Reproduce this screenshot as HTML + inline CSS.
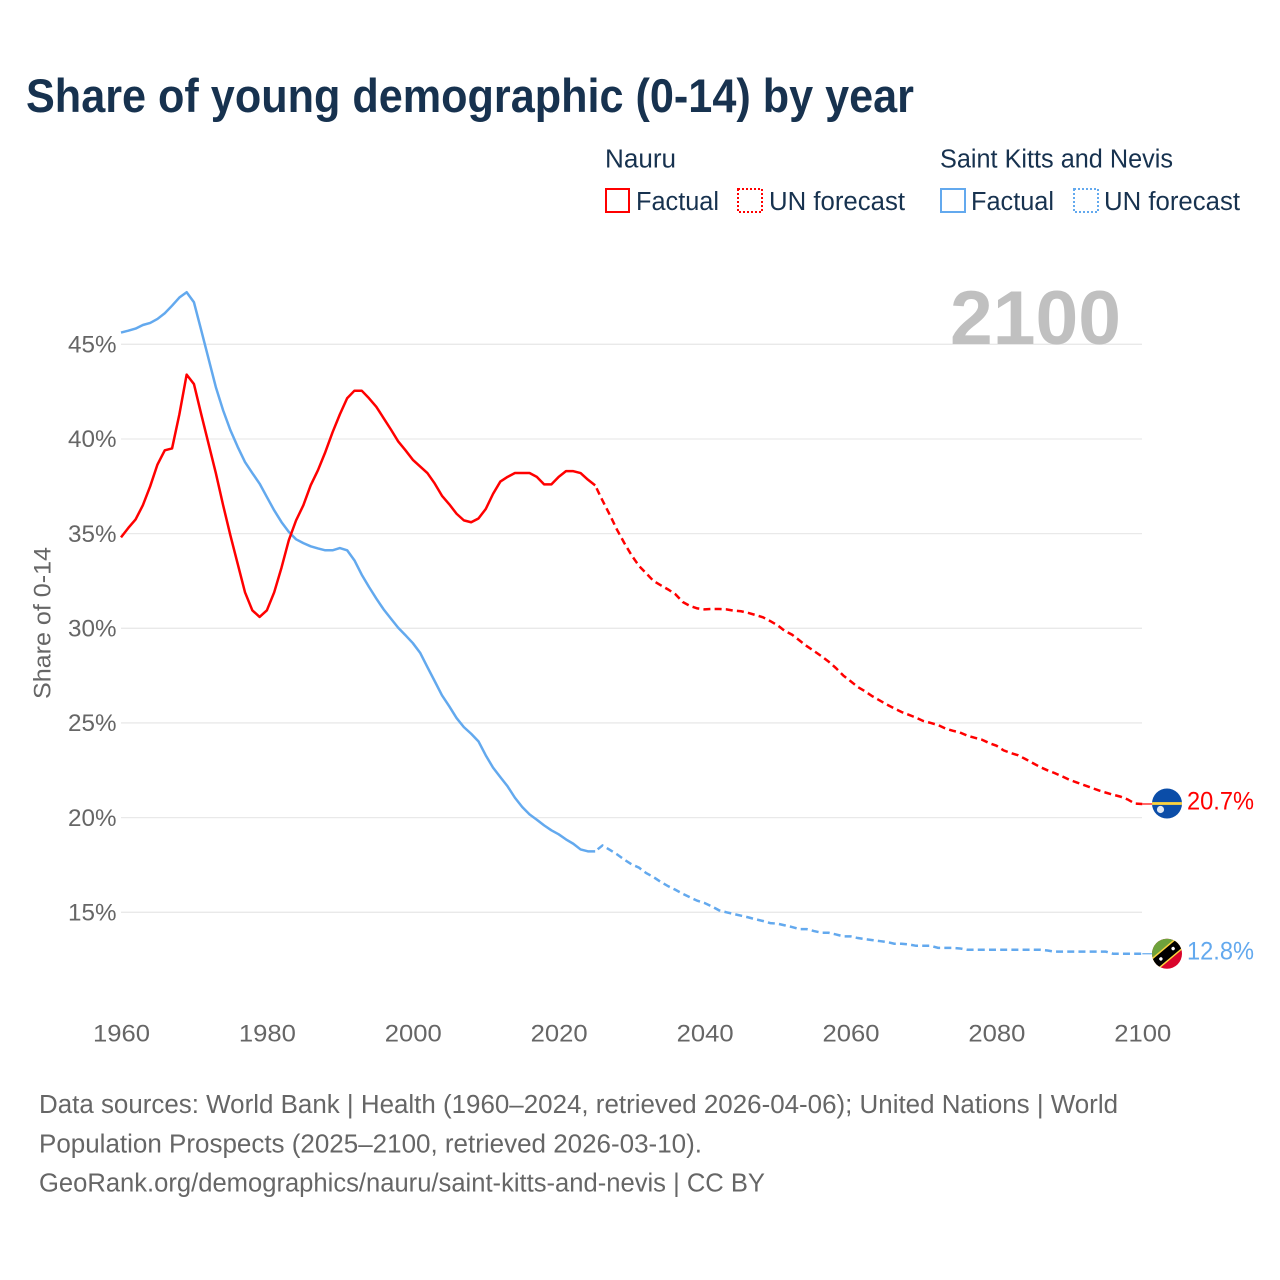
<!DOCTYPE html>
<html lang="en">
<head>
<meta charset="utf-8">
<title>Share of young demographic (0-14) by year</title>
<style>
  html, body { margin: 0; padding: 0; background: #fff; }
  svg { display: block; font-family: "Liberation Sans", sans-serif; }
</style>
</head>
<body>
<svg id="chart" width="1280" height="1280" viewBox="0 0 1280 1280" xmlns="http://www.w3.org/2000/svg">
  <defs>
    <clipPath id="clip-nauru"><circle id="clip-nauru-c" r="15"></circle></clipPath>
    <clipPath id="clip-kitts"><circle id="clip-kitts-c" r="15"></circle></clipPath>
  </defs>
  <rect width="1280" height="1280" fill="#ffffff"></rect>

  <text x="26" y="112" font-size="47" font-weight="700" fill="#17324f" textLength="888" lengthAdjust="spacingAndGlyphs">Share of young demographic (0-14) by year</text>

  <g font-size="25.5" fill="#17324f">
    <text x="605" y="167.5" textLength="71" lengthAdjust="spacingAndGlyphs">Nauru</text>
    <text x="940" y="167.5" textLength="233" lengthAdjust="spacingAndGlyphs">Saint Kitts and Nevis</text>

    <g>
      <rect x="606" y="189" width="23" height="23" fill="none" stroke="#ff0000" stroke-width="2"></rect>
      <text x="636" y="210" textLength="83" lengthAdjust="spacingAndGlyphs">Factual</text>
    </g>
    <g>
      <rect x="738" y="189" width="24" height="23" fill="none" stroke="#ff0000" stroke-width="2" stroke-dasharray="2 2"></rect>
      <text x="769" y="210" textLength="136" lengthAdjust="spacingAndGlyphs">UN forecast</text>
    </g>
    <g>
      <rect x="941" y="189" width="24" height="23" fill="none" stroke="#63a9ee" stroke-width="2"></rect>
      <text x="971" y="210" textLength="83" lengthAdjust="spacingAndGlyphs">Factual</text>
    </g>
    <g>
      <rect x="1074" y="189" width="24" height="23" fill="none" stroke="#63a9ee" stroke-width="2" stroke-dasharray="2 2"></rect>
      <text x="1104" y="210" textLength="136" lengthAdjust="spacingAndGlyphs">UN forecast</text>
    </g>
  </g>

  <g id="grid"></g>
  <text x="950" y="344" font-size="76" font-weight="700" fill="#c0c0c0" textLength="171" lengthAdjust="spacingAndGlyphs">2100</text>
  <g id="y-ticks"></g>
  <g id="x-ticks"></g>
  <text transform="translate(50.5 699) rotate(-90)" font-size="24" fill="#666666" textLength="152" lengthAdjust="spacingAndGlyphs">Share of 0-14</text>

  <g id="series"></g>

  <g id="flag-nauru" clip-path="url(#clip-nauru)"></g>
  <g id="flag-kitts" clip-path="url(#clip-kitts)"></g>
  <g id="end-labels"></g>

  <g font-size="25.5" fill="#666666">
    <text x="39" y="1113" textLength="1079" lengthAdjust="spacingAndGlyphs">Data sources: World Bank | Health (1960–2024, retrieved 2026-04-06); United Nations | World</text>
    <text x="39" y="1152.5" textLength="663" lengthAdjust="spacingAndGlyphs">Population Prospects (2025–2100, retrieved 2026-03-10).</text>
    <text x="39" y="1191.5" textLength="726" lengthAdjust="spacingAndGlyphs">GeoRank.org/demographics/nauru/saint-kitts-and-nevis | CC BY</text>
  </g>
</svg>

<script>
const factualFirstYear = 1960;
const forecastFirstYear = 2025;
const xTickYears = [1960, 1980, 2000, 2020, 2040, 2060, 2080, 2100];
const yTickValues = [45, 40, 35, 30, 25, 20, 15];
const yTickLabels = ['45%', '40%', '35%', '30%', '25%', '20%', '15%'];

const nauruFactual = [
  34.8, 35.3, 35.75, 36.5, 37.5, 38.65, 39.4, 39.5, 41.3, 43.4,
  42.9, 41.3, 39.75, 38.2, 36.5, 34.9, 33.4, 31.9, 30.95, 30.6,
  30.95, 31.9, 33.2, 34.65, 35.7, 36.5, 37.55, 38.35, 39.3, 40.35,
  41.3, 42.15, 42.55, 42.55, 42.15, 41.7, 41.1, 40.5, 39.87, 39.4,
  38.9, 38.55, 38.2, 37.65, 37.0, 36.55, 36.05, 35.7, 35.6, 35.8,
  36.3, 37.1, 37.75, 38.0, 38.2, 38.2, 38.2, 38.0, 37.6, 37.6,
  38.0, 38.3, 38.3, 38.2, 37.85, 37.55
];
const nauruForecast = [
  37.55, 36.75, 36.0, 35.2, 34.5, 33.85, 33.3, 32.9, 32.5, 32.27,
  32.05, 31.8, 31.39, 31.18, 31.05, 31.0, 31.02, 31.02, 31.0, 30.93,
  30.9, 30.81, 30.7, 30.58, 30.38, 30.16, 29.86, 29.66, 29.36, 29.06,
  28.8, 28.53, 28.24, 27.9, 27.51, 27.21, 26.9, 26.67, 26.41, 26.19,
  25.97, 25.77, 25.58, 25.43, 25.28, 25.1, 25.0, 24.89, 24.71, 24.59,
  24.5, 24.33, 24.22, 24.12, 23.94, 23.8, 23.55, 23.41, 23.29, 23.09,
  22.88, 22.67, 22.5, 22.35, 22.18, 22.0, 21.86, 21.72, 21.58, 21.44,
  21.32, 21.21, 21.11, 20.96, 20.74, 20.72
];
const kittsFactual = [
  45.62, 45.72, 45.83, 46.02, 46.13, 46.34, 46.64, 47.04, 47.47, 47.75,
  47.22, 45.74, 44.24, 42.74, 41.51, 40.46, 39.58, 38.78, 38.2, 37.64,
  36.93, 36.23, 35.61, 35.09, 34.7, 34.5, 34.33, 34.22, 34.12, 34.12,
  34.24, 34.12, 33.59, 32.83, 32.18, 31.57, 31.0, 30.51, 30.03, 29.63,
  29.22, 28.71, 27.95, 27.21, 26.46, 25.88, 25.26, 24.78, 24.43, 24.03,
  23.29, 22.64, 22.14, 21.65, 21.05, 20.56, 20.17, 19.89, 19.59, 19.33,
  19.12, 18.85, 18.62, 18.32, 18.22, 18.22
];
const kittsForecast = [
  18.22, 18.53, 18.3, 18.06, 17.78, 17.53, 17.36, 17.07, 16.86, 16.6,
  16.38, 16.19, 15.98, 15.79, 15.61, 15.49, 15.31, 15.1, 15.0, 14.91,
  14.82, 14.73, 14.63, 14.54, 14.43, 14.4, 14.31, 14.22, 14.11, 14.11,
  14.01, 13.92, 13.92, 13.83, 13.73, 13.73, 13.64, 13.58, 13.53, 13.48,
  13.43, 13.34, 13.34, 13.3, 13.23, 13.23, 13.23, 13.12, 13.12, 13.12,
  13.09, 13.02, 13.02, 13.02, 13.02, 13.02, 13.02, 13.02, 13.02, 13.02,
  13.02, 13.02, 12.98, 12.92, 12.92, 12.92, 12.92, 12.92, 12.92, 12.92,
  12.92, 12.81, 12.81, 12.81, 12.81, 12.81
];

const NS = 'http://www.w3.org/2000/svg';
const RED = '#ff0000';
const BLUE = '#63a9ee';
const xScale = function (year) { return 121 + (year - 1960) * (1142.3 - 121) / 140; };
const yScale = function (value) { return 344.3 + (45 - value) * 18.933; };

function make(parent, tag, attrs, text) {
  const el = document.createElementNS(NS, tag);
  Object.keys(attrs).forEach(function (k) { el.setAttribute(k, attrs[k]); });
  if (text !== undefined) el.textContent = text;
  parent.appendChild(el);
  return el;
}

const gridGroup = document.getElementById('grid');
const yTickGroup = document.getElementById('y-ticks');
const xTickGroup = document.getElementById('x-ticks');
const seriesGroup = document.getElementById('series');
const labelGroup = document.getElementById('end-labels');

yTickValues.forEach(function (value, i) {
  const line = make(gridGroup, 'line', { x1: 121, x2: 1142, y1: yScale(value), y2: yScale(value), stroke: '#e9e9e9', 'stroke-width': 1.3 });
  
  
  const label = make(yTickGroup, 'text', { x: 68, y: yScale(value) + 8.2, 'font-size': 24.5, fill: '#666666', textLength: 48.5, lengthAdjust: 'spacingAndGlyphs' }, yTickLabels[i]);
  
  
});

xTickYears.forEach(function (year) {
  const label = make(xTickGroup, 'text', { x: xScale(year) - 28, y: 1041.5, 'font-size': 24.5, fill: '#666666', textLength: 57, lengthAdjust: 'spacingAndGlyphs' }, String(year));
  
  
});

function pathFrom(values, firstYear) {
  return values.map(function (v, i) {
    return (i === 0 ? 'M' : 'L') + xScale(firstYear + i).toFixed(2) + ' ' + yScale(v).toFixed(2);
  }).join(' ');
}

const kittsFactualPath = make(seriesGroup, 'path', { d: pathFrom(kittsFactual, factualFirstYear), fill: 'none', stroke: BLUE, 'stroke-width': 2.5, 'stroke-linejoin': 'round' });



const kittsForecastPath = make(seriesGroup, 'path', { d: pathFrom(kittsForecast, forecastFirstYear), fill: 'none', stroke: BLUE, 'stroke-width': 2.5, 'stroke-dasharray': '7 4.2', 'stroke-dashoffset': 8 });



const nauruFactualPath = make(seriesGroup, 'path', { d: pathFrom(nauruFactual, factualFirstYear), fill: 'none', stroke: RED, 'stroke-width': 2.5, 'stroke-linejoin': 'round' });



const nauruForecastPath = make(seriesGroup, 'path', { d: pathFrom(nauruForecast, forecastFirstYear), fill: 'none', stroke: RED, 'stroke-width': 2.5, 'stroke-dasharray': '7 4.2', 'stroke-dashoffset': 8 });



const lastYear = forecastFirstYear + nauruForecast.length - 1;
const nauruLast = nauruForecast[nauruForecast.length - 1];
const kittsLast = kittsForecast[kittsForecast.length - 1];
const flagX = xScale(lastYear) + 24.7;
const nauruFlagY = yScale(nauruLast);
const kittsFlagY = yScale(kittsLast);

const nauruConnector = make(seriesGroup, 'line', { x1: xScale(lastYear), x2: flagX - 15, y1: nauruFlagY, y2: nauruFlagY, stroke: RED, 'stroke-width': 1.2 });


const kittsConnector = make(seriesGroup, 'line', { x1: xScale(lastYear), x2: flagX - 15, y1: kittsFlagY, y2: kittsFlagY, stroke: BLUE, 'stroke-width': 1.2 });



const clipN = document.getElementById('clip-nauru-c');
clipN.setAttribute('cx', flagX);
clipN.setAttribute('cy', nauruFlagY - 0.5);
const clipK = document.getElementById('clip-kitts-c');
clipK.setAttribute('cx', flagX);
clipK.setAttribute('cy', kittsFlagY);

const flagN = document.getElementById('flag-nauru');
make(flagN, 'rect', { x: flagX - 16, y: nauruFlagY - 17, width: 32, height: 33, fill: '#0b4da8' });
make(flagN, 'rect', { x: flagX - 16, y: nauruFlagY - 1.9, width: 32, height: 2.8, fill: '#fbd33f' });
make(flagN, 'circle', { cx: flagX - 6.5, cy: nauruFlagY + 5.5, r: 3.6, fill: '#dfe8f4' });

const flagK = document.getElementById('flag-kitts');
make(flagK, 'rect', { x: flagX - 16, y: kittsFlagY - 16, width: 32, height: 32, fill: '#d9042b' });
const flagKRot = make(flagK, 'g', { transform: 'rotate(-40 ' + flagX + ' ' + kittsFlagY + ')' });
make(flagKRot, 'rect', { x: flagX - 24, y: kittsFlagY - 24, width: 48, height: 24, fill: '#6ea23c' });
make(flagKRot, 'rect', { x: flagX - 24, y: kittsFlagY - 6.5, width: 48, height: 13, fill: '#fbd33f' });
make(flagKRot, 'rect', { x: flagX - 24, y: kittsFlagY - 5, width: 48, height: 10, fill: '#000000' });
make(flagKRot, 'circle', { cx: flagX - 8, cy: kittsFlagY, r: 1.7, fill: '#ffffff' });
make(flagKRot, 'circle', { cx: flagX + 8, cy: kittsFlagY, r: 1.7, fill: '#ffffff' });

const labelN = make(labelGroup, 'text', { x: 1187, y: nauruFlagY + 5.7, 'font-size': 25, fill: RED, textLength: 67, lengthAdjust: 'spacingAndGlyphs' }, nauruLast.toFixed(1) + '%');


const labelK = make(labelGroup, 'text', { x: 1187, y: kittsFlagY + 5.7, 'font-size': 25, fill: BLUE, textLength: 67, lengthAdjust: 'spacingAndGlyphs' }, kittsLast.toFixed(1) + '%');


</script>
</body>
</html>
